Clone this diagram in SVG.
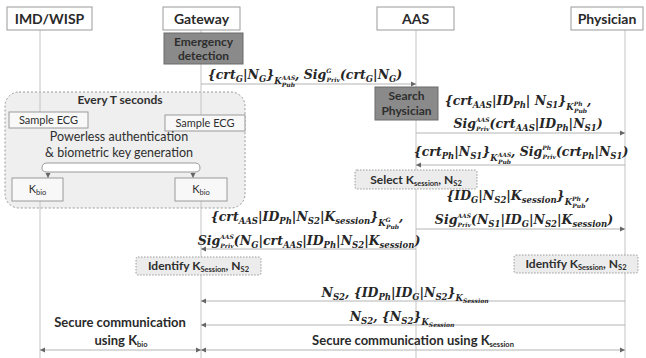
<svg xmlns="http://www.w3.org/2000/svg" width="646" height="358" viewBox="0 0 646 358">
<style>
.hdr{fill:#fff;stroke:#9a9a9a;stroke-width:1}
.ht{font-family:Lato,"Liberation Sans",sans-serif;font-weight:bold;font-size:14px;fill:#2a2a2a;text-anchor:middle}
.life{stroke:#c4c4c4;stroke-width:1;fill:none}
.msg{stroke:#b4b4b4;stroke-width:1;fill:none}
.dark{fill:#8a8a8a;stroke:#6a6a6a;stroke-width:1}
.dt{font-family:Lato,"Liberation Sans",sans-serif;font-weight:bold;font-size:12px;fill:#2e2e2e;text-anchor:middle}
.lite{fill:#ececec;stroke:#9a9a9a;stroke-width:1;stroke-dasharray:1.5 1.5}
.lt{font-family:Lato,"Liberation Sans",sans-serif;font-size:12px;fill:#2e2e2e;text-anchor:middle}
.box{fill:#f8f8f8;stroke:#9a9a9a;stroke-width:1}
.m{font-family:"DejaVu Serif",serif;font-weight:bold;font-style:italic;font-size:12.5px;fill:#262626;text-anchor:middle}
.s{font-size:8.5px}
.t{font-size:6px}
.ls{font-size:7.5px}
</style>
<defs>
<marker id="ah" markerUnits="userSpaceOnUse" markerWidth="6" markerHeight="6" refX="5" refY="3" orient="auto-start-reverse">
<path d="M0,0.5 L5,3 L0,5.5 z" fill="#666"/>
</marker>
</defs>

<!-- group box -->
<g id="every-t">
<rect x="5" y="92" width="240" height="116" rx="14" fill="#efefef" stroke="#9a9a9a" stroke-dasharray="2 2"/>
<text class="dt" x="120" y="104">Every T seconds</text>
</g>

<!-- lifelines -->
<g id="lifelines">
<line class="life" x1="40" y1="30" x2="40" y2="112"/>
<line class="life" x1="40" y1="201" x2="40" y2="358"/>
<line class="life" x1="201" y1="30" x2="201" y2="115"/>
<line class="life" x1="201" y1="201" x2="201" y2="358"/>
<line class="life" x1="416" y1="30" x2="416" y2="358"/>
<line class="life" x1="625" y1="30" x2="625" y2="358"/>
</g>

<!-- headers -->
<g id="imd"><rect class="hdr" x="7" y="7" width="85" height="23"/><text class="ht" x="49.5" y="24">IMD/WISP</text></g>
<g id="gateway"><rect class="hdr" x="163" y="7" width="77" height="23"/><text class="ht" x="201.5" y="24">Gateway</text></g>
<g id="aas"><rect class="hdr" x="377" y="7" width="77" height="23"/><text class="ht" x="415.5" y="24">AAS</text></g>
<g id="physician"><rect class="hdr" x="571" y="7" width="72" height="23"/><text class="ht" x="607" y="24">Physician</text></g>

<g id="emergency"><rect class="dark" x="164" y="33" width="79" height="31"/><text class="dt" x="203.5" y="46">Emergency</text><text class="dt" x="203.5" y="60">detection</text></g>
<g id="search"><rect class="dark" x="375" y="87" width="63" height="33"/><text class="dt" x="406.5" y="100">Search</text><text class="dt" x="406.5" y="115">Physician</text></g>

<g id="sample-left"><rect class="box" x="9" y="112" width="79" height="16"/><text class="lt" x="48.5" y="124" style="font-size:11px">Sample ECG</text></g>
<g id="sample-right"><rect class="box" x="165" y="115" width="80" height="16"/><text class="lt" x="205" y="127" style="font-size:11px">Sample ECG</text></g>
<g id="powerless">
<text class="lt" x="119" y="141" style="font-size:12.5px">Powerless authentication</text>
<text class="lt" x="119" y="157" style="font-size:12.5px">&amp; biometric key generation</text>
</g>
<g id="kbio-left"><rect class="box" x="12" y="178" width="51" height="23" fill="#fff"/><text class="lt" x="37.5" y="193" style="font-size:11px">K<tspan class="ls" dy="2">bio</tspan></text></g>
<g id="kbio-right"><rect class="box" x="175" y="178" width="52" height="23"/><text class="lt" x="201" y="193" style="font-size:11px">K<tspan class="ls" dy="2">bio</tspan></text></g>

<g id="select"><rect class="lite" x="355" y="170" width="122" height="19" rx="2"/><text class="dt" x="416" y="184">Select K<tspan class="ls" dy="2">session</tspan><tspan dy="-2">, N</tspan><tspan class="ls" dy="2">S2</tspan></text></g>
<g id="identify-gw"><rect class="lite" x="136" y="257" width="125" height="18" rx="2"/><text class="dt" x="198.5" y="270">Identify K<tspan class="ls" dy="2">Session</tspan><tspan dy="-2">, N</tspan><tspan class="ls" dy="2">S2</tspan></text></g>
<g id="identify-ph"><rect class="lite" x="514" y="255" width="124" height="18" rx="2"/><text class="dt" x="576" y="268">Identify K<tspan class="ls" dy="2">Session</tspan><tspan dy="-2">, N</tspan><tspan class="ls" dy="2">S2</tspan></text></g>

<!-- connectors -->
<g id="connectors">
<path d="M42,168 Q42,163 47,163 L195,163 Q200,163 200,168 Q200,172 195,172 L47,172 Q42,172 42,168 z" fill="#fff" stroke="#9a9a9a"/>
<line class="msg" x1="48" y1="172" x2="48" y2="178" marker-end="url(#ah)"/>
<line class="msg" x1="193" y1="172" x2="193" y2="178" marker-end="url(#ah)"/>
<line class="msg" x1="201" y1="84" x2="416" y2="84" marker-end="url(#ah)"/>
<line class="msg" x1="416" y1="133" x2="625" y2="133" marker-end="url(#ah)"/>
<line class="msg" x1="625" y1="165" x2="416" y2="165" marker-end="url(#ah)"/>
<line class="msg" x1="416" y1="229" x2="625" y2="229" marker-end="url(#ah)"/>
<line class="msg" x1="416" y1="249" x2="201" y2="249" marker-end="url(#ah)"/>
<line class="msg" x1="625" y1="301" x2="201" y2="301" marker-end="url(#ah)"/>
<line class="msg" x1="625" y1="325" x2="201" y2="325" marker-end="url(#ah)"/>
<line class="msg" x1="201" y1="350" x2="625" y2="350" marker-start="url(#ah)" marker-end="url(#ah)"/>
<line class="msg" x1="40" y1="350" x2="201" y2="350" marker-start="url(#ah)" marker-end="url(#ah)"/>
</g>

<!-- message labels -->
<g id="labels">
<text class="m" x="305" y="79">{crt<tspan class="s" dy="3">G</tspan><tspan dy="-3">|N</tspan><tspan class="s" dy="3">G</tspan><tspan dy="-3">}</tspan><tspan class="s" dy="5">K</tspan><tspan class="t" dy="-4">AAS</tspan><tspan class="t" dx="-13.5" dy="7">Pub</tspan><tspan dy="-8">, Sig</tspan><tspan class="t" dy="-6">G</tspan><tspan class="t" dx="-4.8" dy="9">Priv</tspan><tspan dy="-3">(crt</tspan><tspan class="s" dy="3">G</tspan><tspan dy="-3">|N</tspan><tspan class="s" dy="3">G</tspan><tspan dy="-3">)</tspan></text>

<text class="m" x="518" y="105">{crt<tspan class="s" dy="3">AAS</tspan><tspan dy="-3">|ID</tspan><tspan class="s" dy="3">Ph</tspan><tspan dy="-3">| N</tspan><tspan class="s" dy="3">S1</tspan><tspan dy="-3">}</tspan><tspan class="s" dy="5">K</tspan><tspan class="t" dy="-4">Ph</tspan><tspan class="t" dx="-8.6" dy="7">Pub</tspan><tspan dy="-8">,</tspan></text>
<text class="m" x="528" y="128">Sig<tspan class="t" dy="-6">AAS</tspan><tspan class="t" dx="-13.5" dy="9">Priv</tspan><tspan dy="-3">(crt</tspan><tspan class="s" dy="3">AAS</tspan><tspan dy="-3">|ID</tspan><tspan class="s" dy="3">Ph</tspan><tspan dy="-3">|N</tspan><tspan class="s" dy="3">S1</tspan><tspan dy="-3">)</tspan></text>

<text class="m" x="521" y="156">{crt<tspan class="s" dy="3">Ph</tspan><tspan dy="-3">|N</tspan><tspan class="s" dy="3">S1</tspan><tspan dy="-3">}</tspan><tspan class="s" dy="5">K</tspan><tspan class="t" dy="-4">AAS</tspan><tspan class="t" dx="-13.5" dy="7">Pub</tspan><tspan dy="-8">, Sig</tspan><tspan class="t" dy="-6">Ph</tspan><tspan class="t" dx="-8.6" dy="9">Priv</tspan><tspan dy="-3">(crt</tspan><tspan class="s" dy="3">Ph</tspan><tspan dy="-3">|N</tspan><tspan class="s" dy="3">S1</tspan><tspan dy="-3">)</tspan></text>

<text class="m" x="518" y="200">{ID<tspan class="s" dy="3">G</tspan><tspan dy="-3">|N</tspan><tspan class="s" dy="3">S2</tspan><tspan dy="-3">|K</tspan><tspan class="s" dy="3">session</tspan><tspan dy="-3">}</tspan><tspan class="s" dy="5">K</tspan><tspan class="t" dy="-4">Ph</tspan><tspan class="t" dx="-8.6" dy="7">Pub</tspan><tspan dy="-8">,</tspan></text>
<text class="m" x="524" y="224">Sig<tspan class="t" dy="-6">AAS</tspan><tspan class="t" dx="-13.5" dy="9">Priv</tspan><tspan dy="-3">(N</tspan><tspan class="s" dy="3">S1</tspan><tspan dy="-3">|ID</tspan><tspan class="s" dy="3">G</tspan><tspan dy="-3">|N</tspan><tspan class="s" dy="3">S2</tspan><tspan dy="-3">|K</tspan><tspan class="s" dy="3">session</tspan><tspan dy="-3">)</tspan></text>

<text class="m" x="307" y="221">{crt<tspan class="s" dy="3">AAS</tspan><tspan dy="-3">|ID</tspan><tspan class="s" dy="3">Ph</tspan><tspan dy="-3">|N</tspan><tspan class="s" dy="3">S2</tspan><tspan dy="-3">|K</tspan><tspan class="s" dy="3">session</tspan><tspan dy="-3">}</tspan><tspan class="s" dy="5">K</tspan><tspan class="t" dy="-4">G</tspan><tspan class="t" dx="-4.8" dy="7">Pub</tspan><tspan dy="-8">,</tspan></text>
<text class="m" x="309" y="245">Sig<tspan class="t" dy="-6">AAS</tspan><tspan class="t" dx="-13.5" dy="9">Priv</tspan><tspan dy="-3">(N</tspan><tspan class="s" dy="3">G</tspan><tspan dy="-3">|crt</tspan><tspan class="s" dy="3">AAS</tspan><tspan dy="-3">|ID</tspan><tspan class="s" dy="3">Ph</tspan><tspan dy="-3">|N</tspan><tspan class="s" dy="3">S2</tspan><tspan dy="-3">|K</tspan><tspan class="s" dy="3">session</tspan><tspan dy="-3">)</tspan></text>

<text class="m" x="405" y="297">N<tspan class="s" dy="3">S2</tspan><tspan dy="-3">, {ID</tspan><tspan class="s" dy="3">Ph</tspan><tspan dy="-3">|ID</tspan><tspan class="s" dy="3">G</tspan><tspan dy="-3">|N</tspan><tspan class="s" dy="3">S2</tspan><tspan dy="-3">}</tspan><tspan class="s" dy="4">K</tspan><tspan class="t" dy="2">Session</tspan></text>
<text class="m" x="402" y="321">N<tspan class="s" dy="3">S2</tspan><tspan dy="-3">, {N</tspan><tspan class="s" dy="3">S2</tspan><tspan dy="-3">}</tspan><tspan class="s" dy="4">K</tspan><tspan class="t" dy="2">Session</tspan></text>
</g>

<g id="secure-labels">
<text class="ht" x="413" y="345" style="font-size:13px">Secure communication using K<tspan class="ls" dy="2">session</tspan></text>
<text class="ht" x="120" y="327" style="font-size:13px">Secure communication</text>
<text class="ht" x="121" y="345" style="font-size:13px">using K<tspan class="ls" dy="2">bio</tspan></text>
</g>
</svg>
